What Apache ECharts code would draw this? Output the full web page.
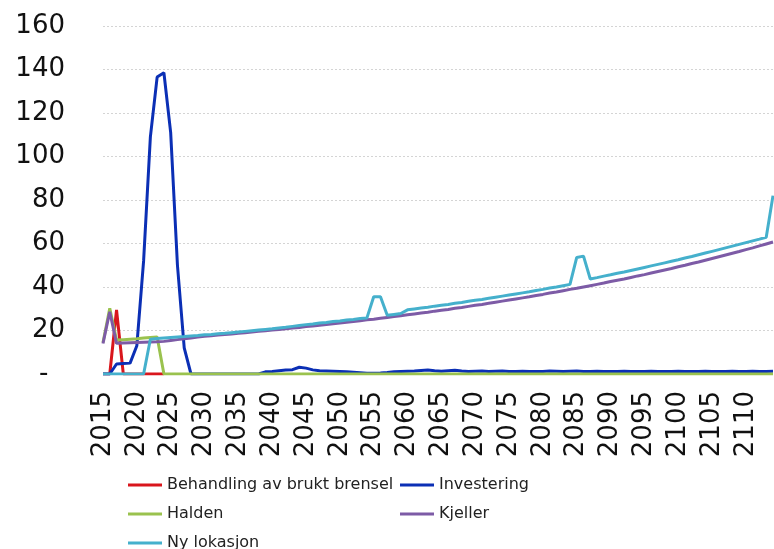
<!DOCTYPE html>
<html>
<head>
<meta charset="utf-8">
<script src="https://cdn.jsdelivr.net/npm/echarts@6/dist/echarts.min.js"></script>
<style>
  html, body { margin: 0; padding: 0; background: #fff; }
  #chart { width: 774px; height: 549px; }
</style>
</head>
<body>
<div id="chart"></div>
<script>
// years on the x axis
const firstYear = 2015;
const lastYear = 2114;
const years = Array.from({ length: lastYear - firstYear + 1 }, (_, i) => String(firstYear + i));

// series values, one per year from 2015
const behandling = [0, 0, 29.5, 0, 0, 0, 0, 0, 0, 0];

const investering = [
    0, 0, 4.6, 4.8, 5.0, 13, 52, 109, 136.5, 138.5,
    111, 50, 12, 0, 0, 0, 0, 0, 0, 0,
    0, 0, 0, 0, 1.0, 1.2, 1.5, 1.8, 2.0, 3.1,
    2.7, 1.9, 1.5, 1.4, 1.3, 1.2, 1.0, 0.8, 0.6, 0.4,
    0.4, 0.5, 0.7, 1.0, 1.2, 1.3, 1.4, 1.6, 1.8, 1.5,
    1.3, 1.5, 1.7, 1.4, 1.2, 1.3, 1.4, 1.2, 1.3, 1.4,
    1.2, 1.1, 1.3, 1.2, 1.1, 1.2, 1.4, 1.3, 1.2, 1.3,
    1.4, 1.2, 1.1, 1.3, 1.2, 1.1, 1.2, 1.3, 1.2, 1.1,
    1.2, 1.3, 1.2, 1.1, 1.2, 1.3, 1.2, 1.1, 1.2, 1.3,
    1.2, 1.1, 1.2, 1.3, 1.2, 1.2, 1.3, 1.2, 1.2, 1.3
];

const halden = [
    14.5, 30.2, 15.6, 15.8, 16.0, 16.2, 16.5, 16.8, 17.0, 0,
    0, 0, 0, 0, 0, 0, 0, 0, 0, 0,
    0, 0, 0, 0, 0, 0, 0, 0, 0, 0,
    0, 0, 0, 0, 0, 0, 0, 0, 0, 0,
    0, 0, 0, 0, 0, 0, 0, 0, 0, 0,
    0, 0, 0, 0, 0, 0, 0, 0, 0, 0,
    0, 0, 0, 0, 0, 0, 0, 0, 0, 0,
    0, 0, 0, 0, 0, 0, 0, 0, 0, 0,
    0, 0, 0, 0, 0, 0, 0, 0, 0, 0,
    0, 0, 0, 0, 0, 0, 0, 0, 0, 0
];

const kjeller = [
    14.0, 28.6, 14.1, 14.3, 14.4, 14.5, 14.6, 14.7, 14.8, 15.0,
    15.4, 15.8, 16.2, 16.6, 17.0, 17.4, 17.6, 17.9, 18.2, 18.4,
    18.7, 19.0, 19.3, 19.6, 19.9, 20.2, 20.5, 20.8, 21.1, 21.4,
    21.8, 22.1, 22.4, 22.7, 23.1, 23.4, 23.8, 24.1, 24.5, 24.9,
    25.2, 25.6, 26.0, 26.4, 26.8, 27.2, 27.6, 28.0, 28.4, 28.9,
    29.3, 29.7, 30.2, 30.6, 31.1, 31.6, 32.0, 32.5, 33.0, 33.5,
    34.0, 34.5, 35.0, 35.5, 36.1, 36.6, 37.2, 37.7, 38.3, 38.9,
    39.4, 40.0, 40.6, 41.2, 41.8, 42.5, 43.1, 43.7, 44.4, 45.1,
    45.7, 46.4, 47.1, 47.8, 48.5, 49.3, 50.0, 50.8, 51.5, 52.3,
    53.1, 53.9, 54.7, 55.5, 56.3, 57.2, 58.0, 58.9, 59.8, 60.7
];

const nyLokasjon = [
    0, 0, 0, 0, 0, 0, 0, 16.0, 16.3, 16.6,
    16.8, 17.0, 17.2, 17.5, 17.7, 18.0, 18.2, 18.5, 18.7, 19.0,
    19.3, 19.6, 19.9, 20.2, 20.5, 20.8, 21.2, 21.5, 21.9, 22.3,
    22.7, 23.0, 23.4, 23.7, 24.1, 24.4, 24.8, 25.1, 25.5, 25.8,
    35.5, 35.5, 27.0, 27.4, 27.8, 29.5, 29.9, 30.3, 30.7, 31.2,
    31.6, 32.0, 32.5, 32.9, 33.4, 33.9, 34.3, 34.8, 35.3, 35.8,
    36.3, 36.8, 37.3, 37.8, 38.4, 38.9, 39.5, 40.0, 40.6, 41.2,
    53.6, 54.2, 43.7, 44.3, 45.0, 45.6, 46.3, 46.9, 47.6, 48.3,
    49.0, 49.7, 50.4, 51.1, 51.8, 52.5, 53.3, 54.0, 54.8, 55.6,
    56.4, 57.2, 58.0, 58.8, 59.6, 60.4, 61.2, 62.0, 62.9, 82.0
];

const chartDom = document.getElementById('chart');
const chart = echarts.init(chartDom);

function line(name, data, color) {
    return {
        name: name,
        type: 'line',
        data: data,
        symbol: 'none',
        lineStyle: { width: 3, color: color },
        itemStyle: { color: color },
        animation: false
    };
}

// one legend per entry so the two columns line up like the original
function legendItem(name, left, top) {
    return {
        left: left,
        top: top,
        icon: 'rect',
        itemWidth: 34,
        itemHeight: 3,
        textStyle: { fontFamily: 'DejaVu Sans', fontSize: 16, color: '#222' },
        data: [name]
    };
}

const option = {
    backgroundColor: '#fff',
    animation: false,
    grid: { left: 103, right: 1, top: 26, bottom: 175, outerBoundsMode: 'none' },
    legend: [
        legendItem('Behandling av brukt brensel', 123, 472),
        legendItem('Investering', 395, 472),
        legendItem('Halden', 123, 501),
        legendItem('Kjeller', 395, 501),
        legendItem('Ny lokasjon', 123, 530)
    ],
    xAxis: {
        type: 'category',
        data: years,
        boundaryGap: false,
        axisLine: { show: false },
        axisTick: { show: false },
        axisLabel: {
            interval: 4,
            rotate: 90,
            margin: 17,
            fontFamily: 'DejaVu Sans',
            fontSize: 26,
            color: '#111'
        }
    },
    yAxis: {
        type: 'value',
        min: 0,
        max: 160,
        interval: 20,
        axisLine: { show: false },
        axisTick: { show: false },
        axisLabel: {
            margin: 38,
            fontFamily: 'DejaVu Sans',
            fontSize: 26,
            color: '#111',
            formatter: v => (v === 0 ? '-  ' : String(v))
        },
        splitLine: {
            lineStyle: { color: '#d4d4d4', width: 1, type: [2, 2] }
        }
    },
    series: [
        line('Behandling av brukt brensel', behandling, '#d9161c'),
        line('Investering', investering, '#0b2fb5'),
        line('Halden', halden, '#9ac24e'),
        line('Kjeller', kjeller, '#7d5ba6'),
        line('Ny lokasjon', nyLokasjon, '#45b0cc')
    ]
};

chart.setOption(option);
window.addEventListener('resize', () => chart.resize());
</script>
</body>
</html>
